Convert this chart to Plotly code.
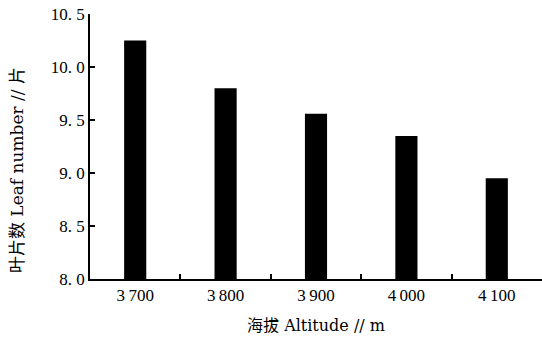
import plotly.graph_objects as go

altitudes = ["3\u2009700", "3\u2009800", "3\u2009900", "4\u2009000", "4\u2009100"]
leaf_numbers = [10.25, 9.80, 9.56, 9.35, 8.95]
y_ticks = [8.0, 8.5, 9.0, 9.5, 10.0, 10.5]
y_tick_labels = ["8. 0", "8. 5", "9. 0", "9. 5", "10. 0", "10. 5"]
x_title = "海拔 Altitude // m"
y_title = "叶片数 Leaf number // 片"

tick_font = dict(family="Liberation Serif, serif", size=17, color="black")
title_font = dict(family="DejaVu Serif, Noto Sans CJK SC, serif", size=16, color="black")

fig = go.Figure(
    go.Bar(
        x=altitudes,
        y=leaf_numbers,
        base=0,
        width=0.245,
        marker=dict(color="black", line=dict(width=0)),
    )
)

fig.update_layout(
    width=542,
    height=340,
    margin=dict(l=90, r=0, t=14, b=61),
    paper_bgcolor="white",
    plot_bgcolor="white",
    showlegend=False,
    font=dict(family="Liberation Serif, serif", color="black", size=16),
    xaxis=dict(
        type="category",
        range=[-0.5, 4.5],
        showline=True,
        linecolor="black",
        linewidth=1.5,
        ticks="inside",
        tickson="boundaries",
        ticklen=5,
        tickwidth=1.5,
        tickcolor="black",
        tickfont=tick_font,
        showgrid=False,
        zeroline=False,
        title=dict(text=x_title, font=title_font, standoff=16),
    ),
    yaxis=dict(
        range=[8.0, 10.5],
        tickvals=y_ticks,
        ticktext=y_tick_labels,
        showline=True,
        linecolor="black",
        linewidth=1.5,
        ticks="inside",
        ticklen=5,
        tickwidth=1.5,
        tickcolor="black",
        tickfont=tick_font,
        showgrid=False,
        zeroline=False,
    ),
    annotations=[
        dict(
            text=y_title,
            textangle=-90,
            font=dict(family=title_font["family"], size=17, color="black"),
            xref="paper",
            yref="paper",
            x=-0.16,
            y=0.41,
            xanchor="center",
            yanchor="middle",
            showarrow=False,
        )
    ],
)

fig.write_html("out.html")
